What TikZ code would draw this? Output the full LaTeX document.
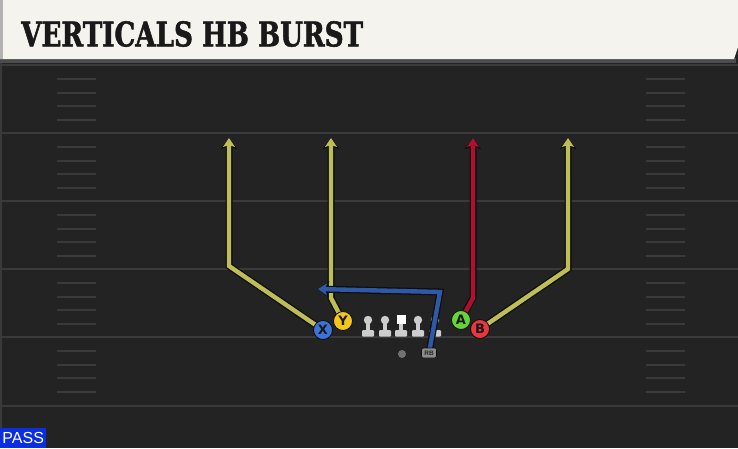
\documentclass[tikz,border=0pt]{standalone}
\usepackage{fontspec}
\setsansfont{DejaVu Sans}
\newfontfamily\titlefont[FakeStretch=0.77,FakeBold=1.5]{DejaVu Serif}
\newfontfamily\tagfont{Liberation Sans}
\usetikzlibrary{positioning,arrows.meta,backgrounds}
\definecolor{turf}{HTML}{232323}
\definecolor{yardline}{HTML}{3A3A3A}
\definecolor{headerbg}{HTML}{F5F3ED}
\definecolor{routeyellow}{HTML}{BDBE55}
\definecolor{routered}{HTML}{B0102F}
\definecolor{routeblue}{HTML}{2F58A6}
\definecolor{xblue}{HTML}{3C73D6}
\definecolor{yyellow}{HTML}{F4C61C}
\definecolor{agreen}{HTML}{66D33A}
\definecolor{bred}{HTML}{E5383F}
\definecolor{passblue}{HTML}{0B2FE0}
\definecolor{linegrey}{HTML}{CDCDCD}
\definecolor{outline}{HTML}{0E0E0E}

\begin{document}
\begin{tikzpicture}[x=1pt,y=-1pt,
  player/.style={circle,draw=outline,line width=0.8pt,minimum size=19pt,inner sep=0pt,text=black!90,font=\sffamily\bfseries\fontsize{13}{13}\selectfont},
  route/.style={line width=4.4pt,line join=miter,-{Stealth[length=9pt,width=12pt,inset=2pt]},
    preaction={draw=outline,line width=7pt,-{Stealth[length=11pt,width=16pt,inset=2.5pt]}}},
  hash/.style={yardline,line width=1.3pt},
  lineman/.style={fill=linegrey}]
  \useasboundingbox (0,0) rectangle (738,448);
  \begin{scope}[on background layer]
    \fill[turf] (0,0) rectangle (738,448);
    \foreach \yl in {65,133,201,269,337,406}
      \draw[yardline,line width=1.6pt] (0,\yl) -- (738,\yl);
    \foreach \yl in {65,133,201,269,337}
      \foreach \dy in {14,28,41,55} {
        \draw[hash] (57,\yl+\dy) -- (96,\yl+\dy);
        \draw[hash] (646,\yl+\dy) -- (685,\yl+\dy);
      }
    \draw[yardline,line width=2pt] (1,60) -- (1,448);
    \foreach \lx in {368,385,418,435}
      \fill[lineman] (\lx,320) circle (4.2);
    \foreach \lx in {368,385,401,418,435} {
      \fill[lineman] (\lx-2.4,322) rectangle (\lx+2.4,331);
      \fill[lineman,rounded corners=1pt] (\lx-6,330) rectangle (\lx+6,336.5);
    }
    \fill[white] (396.5,315) rectangle (405.5,323.5);
  \end{scope}

  \fill[black!70] (0,58) rectangle (736,63);
  \fill[headerbg] (0,0) -- (738,0) -- (738,47) -- (734,59) -- (0,59) -- cycle;
  \fill[black!30] (0,0) rectangle (3,59);
  \node[anchor=west,inner sep=0pt,text=black!90,font=\titlefont\bfseries\fontsize{34}{34}\selectfont] (title) at (21,34) {VERTICALS HB BURST};

  \node[player,fill=xblue] (X) at (323,330) {X};
  \node[player,fill=yyellow] (Y) at (343,321) {Y};
  \node[player,fill=agreen] (A) at (461,320) {A};
  \node[player,fill=bred] (B) at (480,329) {B};
  \node[circle,fill=black!55,minimum size=8pt,inner sep=0pt] (QB) at (402,354) {};
  \node[fill=black!45,draw=outline,line width=0.6pt,rounded corners=2pt,minimum width=15pt,minimum height=10pt,inner sep=0pt,text=black!85,font=\tagfont\bfseries\fontsize{6.5}{6.5}\selectfont] (RB) at (429,353) {RB};
  \node[fill=passblue,text=white,anchor=south west,minimum width=46pt,minimum height=20pt,inner sep=0pt,font=\tagfont\fontsize{16}{16}\selectfont] (pass) at (0,448) {PASS};

  \coordinate (xbend) at (229,266);
  \coordinate (xtop) at (229,138);
  \coordinate (ybend) at (331,298);
  \coordinate (ytop) at (331,138);
  \coordinate (abend) at (473,298);
  \coordinate (atop) at (473,138);
  \coordinate (bbend) at (568,269);
  \coordinate (btop) at (568,138);
  \coordinate (rbturn) at (440,292);
  \coordinate (rbtip) at (318,289);

  \begin{scope}[on background layer]
    \draw[route,routeyellow] (X.center) -- (xbend) -- (xtop);
    \draw[route,routeyellow] (Y.center) -- (ybend) -- (ytop);
    \draw[route,routered] (A.center) -- (abend) -- (atop);
    \draw[route,routeyellow] (B.center) -- (bbend) -- (btop);
    \draw[route,routeblue] (RB.center) -- (rbturn) -- (rbtip);
  \end{scope}
\end{tikzpicture}
\end{document}
